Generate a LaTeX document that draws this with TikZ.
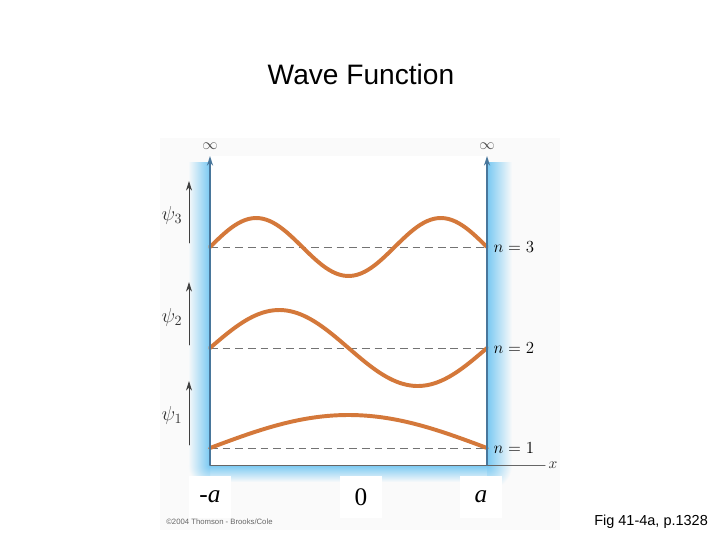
\documentclass[tikz,border=0pt]{standalone}
\usepackage{fontspec}
\newfontfamily\arialfont{Liberation Sans}
\newfontfamily\timesfont{Liberation Serif}
\usetikzlibrary{arrows.meta}
\definecolor{wavecol}{RGB}{212,120,58}
\definecolor{wallcol}{RGB}{72,118,155}
\definecolor{glowcol}{RGB}{120,200,242}
\definecolor{paper}{RGB}{250,250,250}

\begin{document}
\begin{tikzpicture}[x=0.025cm,y=-0.025cm,>={Stealth[length=2.4mm,width=1.5mm]},line cap=round,line join=round,
  wave/.style={line width=2.8pt,color=wavecol},
  wall/.style={->,line width=1.3pt,color=wallcol},
  level/.style={line width=0.7pt,color=black!55,dash pattern=on 5.5pt off 3.5pt,line cap=butt},
  psiarrow/.style={->,line width=0.6pt,color=black!75},
  lbl/.style={font=\fontsize{12}{14}\selectfont,inner sep=1pt},
  psilbl/.style={font=\fontsize{14.5}{16}\selectfont,inner sep=1pt,color=black!80},
  axlbl/.style={font=\timesfont\fontsize{18}{20}\selectfont,fill=white,minimum width=30,minimum height=30}]
\useasboundingbox (0,0) rectangle (720,540);
\fill[paper] (160,138) rectangle (560,530);
\coordinate (O) at (210,465);
\coordinate (L) at (487,465);
\coordinate (topL) at (210,156);
\coordinate (topR) at (487,156);
\coordinate (xend) at (545,465);
% glow of the walls
\fill[left color=paper,right color=glowcol] (188,162) rectangle (210,465);
\fill[left color=glowcol,right color=paper] (487,162) rectangle (512,465);
\fill[top color=glowcol,bottom color=paper] (210,465) rectangle (487,482);
\begin{scope}
  \clip (188,465) rectangle (210,485);
  \shade[inner color=glowcol,outer color=paper] (O) circle (22);
\end{scope}
\begin{scope}
  \clip (487,465) rectangle (512,485);
  \shade[inner color=glowcol,outer color=paper] (L) circle (25);
\end{scope}
\fill[white] (210,156) rectangle (487,465);
% energy levels
\coordinate (d1l) at (210,448);
\coordinate (d1r) at (487,448);
\coordinate (d2l) at (210,348);
\coordinate (d2r) at (487,348);
\coordinate (d3l) at (210,247);
\coordinate (d3r) at (487,247);
\draw[level] (d1l) -- (d1r);
\draw[level] (d2l) -- (d2r);
\draw[level] (d3l) -- (d3r);
% wave functions
\draw[wave] plot[domain=0:1,samples=80] ({210+277*\x},{448-33*sin(180*\x)});
\draw[wave] plot[domain=0:1,samples=80] ({210+277*\x},{348-38*sin(360*\x)});
\draw[wave] plot[domain=0:1,samples=80] ({210+277*\x},{247-29*sin(540*\x)});
% walls and axis
\draw[line width=0.7pt,color=black!60] (O) -- (xend);
\draw[wall] (O) -- (topL);
\draw[wall] (L) -- (topR);
\node[font=\fontsize{11}{12}\selectfont,color=black!70] (infL) at (210,146) {$\infty$};
\node[font=\fontsize{11}{12}\selectfont,color=black!70] (infR) at (487,146) {$\infty$};
\node[font=\fontsize{11}{13}\selectfont,color=black!80] (xlab) at (553,465) {$x$};
\node[lbl,anchor=west] (n3) at (492,247) {$n = 3$};
\node[lbl,anchor=west] (n2) at (492,348) {$n = 2$};
\node[lbl,anchor=west] (n1) at (492,448) {$n = 1$};
% psi arrows
\coordinate (p3a) at (189,243);
\coordinate (p3b) at (189,181);
\coordinate (p2a) at (189,345);
\coordinate (p2b) at (189,282);
\coordinate (p1a) at (189,445);
\coordinate (p1b) at (189,381);
\draw[psiarrow] (p3a) -- (p3b);
\draw[psiarrow] (p2a) -- (p2b);
\draw[psiarrow] (p1a) -- (p1b);
\node[psilbl] (psi3) at (172,215) {$\psi_3$};
\node[psilbl] (psi2) at (172,317) {$\psi_2$};
\node[psilbl] (psi1) at (172,415) {$\psi_1$};
% texts
\node[font=\arialfont\fontsize{20}{24}\selectfont] (title) at (361,74) {Wave Function};
\node[axlbl] (mina) at (210,497) {-\textit{a}};
\node[axlbl] (zero) at (361,497) {0};
\node[axlbl] (plusa) at (481,497) {\textit{a}};
\node[font=\arialfont\fontsize{5.5}{6}\selectfont,text=black!60,anchor=west,inner sep=0pt] (copy) at (166,522) {\textcopyright2004 Thomson - Brooks/Cole};
\node[font=\arialfont\fontsize{10.3}{12}\selectfont,anchor=west,inner sep=0pt] (fig) at (594,522) {Fig 41-4a, p.1328};
\end{tikzpicture}
\end{document}
